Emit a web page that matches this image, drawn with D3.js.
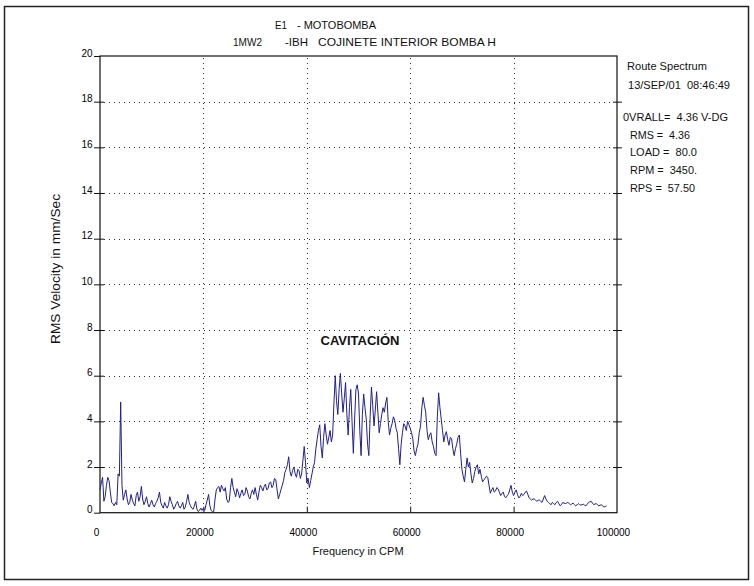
<!DOCTYPE html>
<html>
<head>
<meta charset="utf-8">
<script src="https://cdn.jsdelivr.net/npm/d3@7"></script>
<style>
  body { margin: 0; background: #fff; }
  svg { display: block; font-family: "Liberation Sans", Arial, sans-serif; }
  .axis path { display: none; }
  .axis line { stroke: #111; }
  .axis text { fill: #000; font-size: 10px; font-family: "Liberation Sans", Arial, sans-serif; }
</style>
</head>
<body>
<svg id="chart" width="754" height="586"></svg>
<script>
// header / info texts
var titleLine1 = [["E1", 275, 12], ["- MOTOBOMBA", 297, 79]];
var titleLine2 = [["1MW2", 233, 29], ["-IBH", 285, 23], ["COJINETE INTERIOR BOMBA H", 318, 178]];
var infoLines = [
  ["Route Spectrum", 627, 70, 80],
  ["13/SEP/01  08:46:49", 628, 89, 102],
  ["0VRALL=  4.36 V-DG", 623, 121, 105],
  ["RMS =  4.36", 630, 139, 60],
  ["LOAD =  80.0", 630, 156, 67],
  ["RPM =  3450.", 630, 174, 67],
  ["RPS =  57.50", 630, 192, 65]
];

var yTicks = [0, 2, 4, 6, 8, 10, 12, 14, 16, 18, 20];
var xTicks = [0, 20000, 40000, 60000, 80000, 100000];

// spectrum: one value every 250 CPM starting at 0 CPM (mm/Sec RMS), 20 per row = 5000 CPM
var binCPM = 250;
var amps = [
  1.0, 1.3, 1.55, 0.5, 0.7, 1.2, 1.55, 1.4, 0.9, 0.45, 0.4, 0.3, 0.45, 0.35, 1.7, 1.6, 4.85, 1.2, 0.55, 0.8,
  1.0, 0.6, 0.35, 0.45, 0.8, 0.55, 0.4, 0.3, 0.75, 0.9, 0.5, 0.7, 1.15, 0.6, 0.35, 0.5, 0.7, 0.4, 0.25, 0.4,
  0.55, 0.35, 0.25, 0.4, 0.5, 0.65, 0.9, 0.45, 0.3, 0.2, 0.45, 0.3, 0.2, 0.35, 0.7, 0.5, 0.35, 0.15, 0.25, 0.4,
  0.5, 0.3, 0.2, 0.3, 0.45, 0.15, 0.25, 0.5, 0.8, 0.45, 0.3, 0.2, 0.15, 0.3, 0.5, 0.15, 0.05, 0.1, 0.2, 0.1,
  0.2, 0.1, 0.35, 0.55, 0.8, 0.3, 0.1, 0.05, 0.05, 0.6, 1.0, 1.1, 1.15, 0.9, 1.2, 1.05, 0.95, 1.1, 0.6, 0.45,
  0.5, 1.1, 1.5, 1.1, 0.9, 0.7, 1.05, 0.9, 0.65, 0.85, 1.0, 0.75, 0.8, 1.1, 0.95, 0.7, 0.6, 0.85, 1.0, 0.8,
  1.1, 0.8, 0.55, 0.9, 1.2, 1.1, 0.95, 1.15, 1.25, 1.0, 1.05, 1.3, 1.35, 1.1, 1.2, 1.5, 1.45, 1.0, 0.6, 0.8,
  1.0, 1.2, 1.4, 1.75, 1.9, 2.1, 2.45, 1.8, 1.6, 1.85, 2.0, 1.7, 1.55, 1.9, 1.85, 1.5, 1.7, 2.3, 2.9, 2.2,
  1.3, 1.5, 1.1, 1.4, 1.7, 2.0, 2.2, 2.8, 3.2, 3.6, 3.85, 2.9, 2.4, 3.3, 3.9, 3.4, 3.0, 3.3, 3.6, 3.1,
  3.4, 4.8, 6.0, 4.9, 4.3, 5.4, 6.1, 5.2, 4.4, 5.0, 5.7, 4.3, 3.4, 4.6, 5.4, 4.0, 2.6, 4.1, 5.4, 5.6,
  5.2, 3.6, 2.5, 4.3, 5.2, 4.6, 4.1, 3.0, 2.5, 4.2, 5.5, 4.7, 3.8, 4.5, 5.3, 4.4, 3.5, 3.9, 4.3, 4.6,
  4.4, 4.8, 5.05, 4.0, 3.4, 3.7, 3.9, 4.2, 4.05, 3.7, 3.5, 2.8, 2.1, 3.0, 3.5, 3.9, 3.8, 3.6, 4.0, 3.85,
  3.7, 3.5, 3.25, 2.7, 2.5, 2.8, 3.0, 3.5, 3.8, 4.6, 5.05, 4.7, 4.4, 3.6, 3.2, 3.4, 3.5, 3.1, 2.9, 2.6,
  2.5, 4.2, 5.25, 4.6, 4.1, 3.6, 3.1, 3.4, 3.55, 3.2, 2.95, 3.3, 3.25, 2.8, 2.5, 2.8, 3.0, 3.3, 3.4, 2.6,
  1.9, 1.6, 1.35, 1.9, 2.4, 2.0, 2.2, 1.7, 1.3, 1.5, 1.8, 2.0, 2.1, 1.7, 1.9, 1.6, 1.35, 1.45, 1.5, 1.6,
  1.55, 1.2, 0.85, 1.0, 1.1, 0.9, 0.95, 1.1, 1.05, 0.9, 0.75, 0.85, 0.9, 0.7, 0.65, 0.75, 0.8, 1.0, 1.2, 0.9,
  0.75, 0.9, 1.0, 0.8, 0.65, 0.7, 0.85, 0.75, 0.8, 0.9, 0.95, 0.8, 0.65, 0.6, 0.55, 0.6, 0.6, 0.55, 0.5, 0.55,
  0.55, 0.5, 0.45, 0.6, 0.75, 0.6, 0.5, 0.45, 0.4, 0.35, 0.45, 0.4, 0.35, 0.45, 0.5, 0.4, 0.3, 0.35, 0.45, 0.42,
  0.4, 0.42, 0.45, 0.4, 0.35, 0.38, 0.42, 0.36, 0.3, 0.34, 0.4, 0.36, 0.33, 0.35, 0.38, 0.32, 0.3, 0.38, 0.45, 0.48,
  0.5, 0.42, 0.35, 0.38, 0.4, 0.34, 0.3, 0.33, 0.35, 0.28, 0.25, 0.27, 0.3
];

var svg = d3.select("#chart");

// plot area
var plotLeft = 100, plotRight = 617, plotTop = 56, plotBottom = 512.7;

var xScale = d3.scaleLinear().domain([0, 100000]).range([plotLeft, plotRight]);
var yScale = d3.scaleLinear().domain([0, 20]).range([plotBottom, plotTop]);

// outer frame
svg.append("rect")
  .attr("x", 4.5).attr("y", 6.5)
  .attr("width", 744).attr("height", 573)
  .attr("fill", "none").attr("stroke", "#222").attr("stroke-width", 1.5);

// dotted grid
svg.append("g").selectAll("line")
  .data(yTicks.filter(d => d > 0 && d < 20))
  .enter().append("line")
  .attr("x1", plotLeft + 4).attr("x2", plotRight - 4)
  .attr("y1", d => Math.round(yScale(d)) + 0.5)
  .attr("y2", d => Math.round(yScale(d)) + 0.5)
  .attr("stroke", "#333").attr("stroke-dasharray", "1,4");

svg.append("g").selectAll("line")
  .data(xTicks.filter(d => d > 0 && d < 100000))
  .enter().append("line")
  .attr("x1", d => Math.round(xScale(d)) + 0.5)
  .attr("x2", d => Math.round(xScale(d)) + 0.5)
  .attr("y1", plotTop + 2).attr("y2", plotBottom - 6)
  .attr("stroke", "#333").attr("stroke-dasharray", "1,4");

// y axis (left) with labels, outward ticks
svg.append("g")
  .attr("class", "axis")
  .attr("transform", "translate(" + plotLeft + ",0)")
  .call(d3.axisLeft(yScale).tickValues(yTicks).tickSize(6).tickPadding(1.5))
  .selectAll("text").attr("dy", "0em");

// inward ticks left
svg.append("g")
  .attr("class", "axis")
  .attr("transform", "translate(" + plotLeft + ",0)")
  .call(d3.axisRight(yScale).tickValues(yTicks.slice(1, 10)).tickSize(4).tickFormat(""));

// right side ticks
svg.append("g")
  .attr("class", "axis")
  .attr("transform", "translate(" + plotRight + ",0)")
  .call(d3.axisRight(yScale).tickValues(yTicks.slice(1, 10)).tickSize(5).tickFormat(""));
svg.append("g")
  .attr("class", "axis")
  .attr("transform", "translate(" + plotRight + ",0)")
  .call(d3.axisLeft(yScale).tickValues(yTicks.slice(1, 10)).tickSize(4).tickFormat(""));

// x axis labels
svg.append("g")
  .attr("class", "axis")
  .attr("transform", "translate(0," + plotBottom + ")")
  .call(d3.axisBottom(xScale).tickValues(xTicks).tickSize(0).tickPadding(16).tickFormat(d3.format("d")))
  .selectAll("text").attr("dx", "-4");

// x inward ticks
svg.append("g")
  .attr("class", "axis")
  .attr("transform", "translate(0," + plotBottom + ")")
  .call(d3.axisTop(xScale).tickValues(xTicks.slice(1, 5)).tickSize(6).tickFormat(""));

// plot box
svg.append("rect")
  .attr("x", plotLeft).attr("y", plotTop)
  .attr("width", plotRight - plotLeft).attr("height", plotBottom - plotTop)
  .attr("fill", "none").attr("stroke", "#111").attr("stroke-width", 1.2);

// spectrum line
var line = d3.line()
  .x((d, i) => xScale(i * binCPM))
  .y(d => yScale(d));

svg.append("path")
  .datum(amps)
  .attr("d", line)
  .attr("fill", "none")
  .attr("stroke", "#20208f")
  .attr("stroke-width", 1)
  .attr("stroke-linejoin", "miter");

// titles
function putText(list, y) {
  list.forEach(function (t) {
    svg.append("text")
      .attr("x", t[1]).attr("y", y)
      .attr("font-size", 11)
      .attr("fill", "#111")
      .attr("textLength", t[2])
      .attr("lengthAdjust", "spacingAndGlyphs")
      .text(t[0]);
  });
}
putText(titleLine1, 29);
putText(titleLine2, 46);

svg.append("g").selectAll("text")
  .data(infoLines)
  .enter().append("text")
  .attr("x", d => d[1]).attr("y", d => d[2])
  .attr("font-size", 11)
  .attr("fill", "#111")
  .attr("textLength", d => d[3])
  .attr("lengthAdjust", "spacingAndGlyphs")
  .style("white-space", "pre")
  .text(d => d[0]);

// annotation
svg.append("text")
  .attr("x", 360).attr("y", 345)
  .attr("text-anchor", "middle")
  .attr("font-size", 13)
  .attr("font-weight", "bold")
  .attr("fill", "#111")
  .text("CAVITACIÓN");

// axis titles
svg.append("text")
  .attr("x", 358).attr("y", 555)
  .attr("text-anchor", "middle")
  .attr("font-size", 11)
  .attr("fill", "#111")
  .text("Frequency in CPM");

svg.append("text")
  .attr("transform", "translate(60,269) rotate(-90)")
  .attr("text-anchor", "middle")
  .attr("font-size", 12)
  .attr("fill", "#111")
  .attr("textLength", 150)
  .attr("lengthAdjust", "spacingAndGlyphs")
  .text("RMS Velocity in mm/Sec");
</script>
</body>
</html>
